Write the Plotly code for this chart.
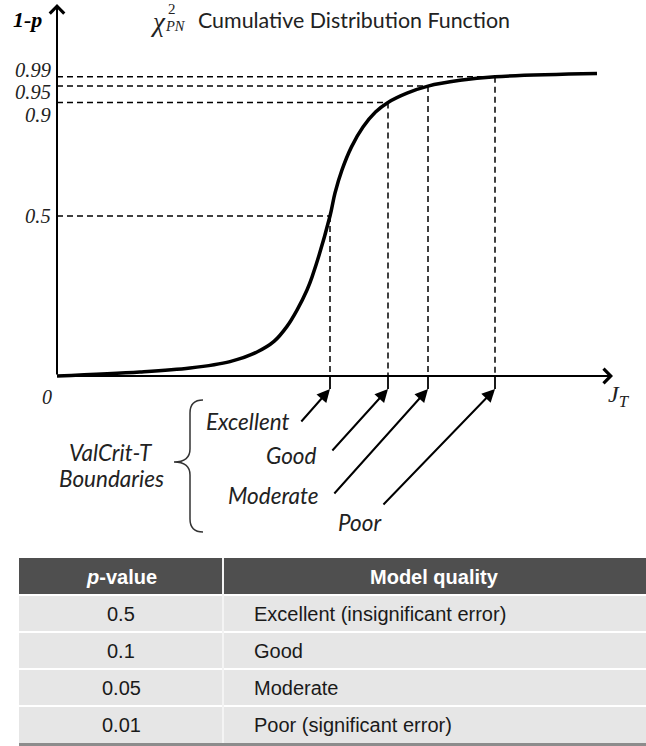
import plotly.graph_objects as go

# ---------------- data ----------------
# schematic CDF curve: J_T (x) vs drawn height of 1-p (y, schematic scale)
cdf_jt = [0.0, 1.66, 2.66, 3.46, 4.00, 4.34, 4.60, 4.80, 5.00, 5.10, 5.46, 5.56, 5.70,
          5.89, 6.12, 6.37, 6.62, 7.00, 7.42, 8.06, 8.76, 10.80]
cdf_height = [0.0, 0.0125, 0.025, 0.045, 0.075, 0.108, 0.155, 0.206, 0.269, 0.309, 0.500,
              0.572, 0.644, 0.716, 0.778, 0.825, 0.855, 0.884, 0.906, 0.924, 0.935, 0.945]

# probability levels (label, drawn height) and the J_T boundary where the curve meets them
level_labels = ["0.5", "0.9", "0.95", "0.99"]
level_height = [0.500, 0.855, 0.906, 0.935]
boundary_jt = [5.46, 6.62, 7.42, 8.76]
boundary_names = ["Excellent", "Good", "Moderate", "Poor"]

# table
table_header = ["<b><i>p</i>-value</b>", "<b>Model quality</b>"]
table_p = ["0.5", "0.1", "0.05", "0.01"]
table_quality = ["Excellent (insignificant error)", "Good", "Moderate", "Poor (significant error)"]

# ---------------- layout geometry ----------------
W, H = 646, 746
X0, SX = 57, 50.0      # pixel of J_T = 0, pixels per J_T unit
Y0, SY = 376, 320.0    # pixel of height 0, pixels per height unit
PLOT_BOTTOM = 545      # pixel where the drawing area ends


def dx(px):
    return (px - X0) / SX


def dy(py):
    return (Y0 - py) / SY


def paper_x(px):
    return px / W


def paper_y(py):
    return 1 - py / H


SERIF = "Liberation Serif"
SANS = "Lato"
TXT = "#222222"

fig = go.Figure()

# curve
fig.add_trace(go.Scatter(
    x=cdf_jt, y=cdf_height, mode="lines",
    line=dict(color="black", width=3.5, shape="spline", smoothing=1.0),
    hoverinfo="skip"))

stub = dy(389)
for h, b in zip(level_height, boundary_jt):
    fig.add_trace(go.Scatter(x=[0, b], y=[h, h], mode="lines",
                             line=dict(color="black", width=1.5, dash="6px,4px"),
                             hoverinfo="skip"))
    fig.add_trace(go.Scatter(x=[b, b], y=[h, 0], mode="lines",
                             line=dict(color="black", width=1.5, dash="6px,4px"),
                             hoverinfo="skip"))
    fig.add_trace(go.Scatter(x=[b, b], y=[0, stub], mode="lines",
                             line=dict(color="black", width=1.8),
                             hoverinfo="skip"))

annotations = []

# axes with open arrowheads
annotations.append(dict(x=dx(613), y=0, ax=0, ay=0, xref="x", yref="y", axref="x", ayref="y",
                        text="", showarrow=True, arrowhead=4, arrowsize=1.4, arrowwidth=2,
                        arrowcolor="black", standoff=0))
annotations.append(dict(x=0, y=dy(4), ax=0, ay=0, xref="x", yref="y", axref="x", ayref="y",
                        text="", showarrow=True, arrowhead=4, arrowsize=1.4, arrowwidth=2,
                        arrowcolor="black", standoff=0))

# boundary arrows
tails = [(300, 423), (331, 452), (333, 495), (382, 506)]
for b, (tx, ty) in zip(boundary_jt, tails):
    annotations.append(dict(x=b, y=stub, ax=dx(tx), ay=dy(ty), xref="x", yref="y",
                            axref="x", ayref="y", text="", showarrow=True, arrowhead=2,
                            arrowsize=1.3, arrowwidth=2, arrowcolor="black", standoff=0))

# y level labels
label_centers = [216, 115, 91.5, 69.5]
for lab, cy in zip(level_labels, label_centers):
    annotations.append(dict(x=dx(53), y=dy(cy), xref="x", yref="y", text=lab, showarrow=False,
                            xanchor="right", yanchor="middle",
                            font=dict(family=SERIF, size=20.5, color=TXT, style="italic")))

annotations.append(dict(x=dx(47), y=dy(397), xref="x", yref="y", text="0", showarrow=False,
                        xanchor="center", yanchor="middle",
                        font=dict(family=SERIF, size=20, color=TXT, style="italic")))
annotations.append(dict(x=dx(606), y=dy(396), xref="x", yref="y", text="J<sub>T</sub>",
                        showarrow=False, xanchor="left", yanchor="middle",
                        font=dict(family=SERIF, size=24, color=TXT, style="italic")))
annotations.append(dict(x=dx(27), y=dy(19), xref="x", yref="y", text="1-p", showarrow=False,
                        xanchor="center", yanchor="middle",
                        font=dict(family=SERIF, size=22, color="black", style="italic",
                                  weight="bold")))

# title
annotations.append(dict(x=dx(158), y=dy(22), xref="x", yref="y", text="χ", showarrow=False,
                        xanchor="center", yanchor="middle",
                        font=dict(family=SERIF, size=27, color=TXT, style="italic")))
annotations.append(dict(x=dx(172), y=dy(8.5), xref="x", yref="y", text="2", showarrow=False,
                        xanchor="center", yanchor="middle",
                        font=dict(family=SERIF, size=15, color=TXT)))
annotations.append(dict(x=dx(175), y=dy(25.5), xref="x", yref="y", text="PN", showarrow=False,
                        xanchor="center", yanchor="middle",
                        font=dict(family=SERIF, size=14.5, color=TXT, style="italic")))
annotations.append(dict(x=dx(196), y=dy(20), xref="x", yref="y",
                        text="Cumulative Distribution Function", showarrow=False,
                        xanchor="left", yanchor="middle",
                        font=dict(family=SANS, size=21.4, color=TXT)))

# boundary labels
name_pos = [(248, 421), (291, 455), (273, 495), (360, 522)]
for name, (cx, cy) in zip(boundary_names, name_pos):
    annotations.append(dict(x=dx(cx), y=dy(cy), xref="x", yref="y", text=name, showarrow=False,
                            xanchor="center", yanchor="middle",
                            font=dict(family=SANS, size=22.5, color=TXT, style="italic")))
for txt, cy in [("ValCrit-T", 452), ("Boundaries", 478)]:
    annotations.append(dict(x=dx(111), y=dy(cy), xref="x", yref="y", text=txt, showarrow=False,
                            xanchor="center", yanchor="middle",
                            font=dict(family=SANS, size=22.5, color=TXT, style="italic")))


# curly brace
def P(px, py):
    return f"{dx(px):.4f},{dy(py):.4f}"


brace = (f"M {P(203,400)} Q {P(190,400)} {P(190,413)} L {P(190,449)} "
         f"Q {P(190,462)} {P(174,462)} Q {P(190,462)} {P(190,475)} L {P(190,519)} "
         f"Q {P(190,532)} {P(203,532)}")
shapes = [dict(type="path", path=brace, xref="x", yref="y",
               line=dict(color="#333333", width=1.5))]

# ---------------- table (built from the table lists) ----------------
T_LEFT, T_RIGHT, T_DIV = 19, 646, 223
T_TOP, HEAD_H, ROW_H = 558, 37, 37
TFONT = "Liberation Sans"
n_rows = len(table_p)
T_BOTTOM = T_TOP + HEAD_H + n_rows * ROW_H

# header background
shapes.append(dict(type="rect", xref="paper", yref="paper", layer="below",
                   x0=paper_x(T_LEFT), x1=paper_x(T_RIGHT),
                   y0=paper_y(T_TOP + HEAD_H), y1=paper_y(T_TOP),
                   fillcolor="#4f4f4f", line=dict(width=0)))
# row backgrounds
shapes.append(dict(type="rect", xref="paper", yref="paper", layer="below",
                   x0=paper_x(T_LEFT), x1=paper_x(T_RIGHT),
                   y0=paper_y(T_BOTTOM), y1=paper_y(T_TOP + HEAD_H),
                   fillcolor="#e6e6e6", line=dict(width=0)))
# row separators
for i in range(n_rows):
    yy = paper_y(T_TOP + HEAD_H + i * ROW_H)
    shapes.append(dict(type="line", xref="paper", yref="paper",
                       x0=paper_x(T_LEFT), x1=paper_x(T_RIGHT), y0=yy, y1=yy,
                       line=dict(color="white", width=2)))
# column divider
shapes.append(dict(type="line", xref="paper", yref="paper",
                   x0=paper_x(T_DIV), x1=paper_x(T_DIV),
                   y0=paper_y(T_BOTTOM), y1=paper_y(T_TOP),
                   line=dict(color="#f4f4f4", width=2)))
# bottom rule
yb = paper_y(T_BOTTOM + 1.5)
shapes.append(dict(type="line", xref="paper", yref="paper",
                   x0=paper_x(T_LEFT), x1=paper_x(T_RIGHT), y0=yb, y1=yb,
                   line=dict(color="#8c8c8c", width=3)))

# header texts
col_centers = [(T_LEFT + T_DIV) / 2, (T_DIV + T_RIGHT) / 2]
for txt, cx in zip(table_header, col_centers):
    annotations.append(dict(x=paper_x(cx), y=paper_y(T_TOP + HEAD_H / 2), xref="paper",
                            yref="paper", text=txt, showarrow=False, xanchor="center",
                            yanchor="middle", font=dict(family=TFONT, size=20, color="white")))
# cell texts
for i, (pv, q) in enumerate(zip(table_p, table_quality)):
    cy = T_TOP + HEAD_H + i * ROW_H + ROW_H / 2
    annotations.append(dict(x=paper_x(col_centers[0]), y=paper_y(cy), xref="paper",
                            yref="paper", text=pv, showarrow=False, xanchor="center",
                            yanchor="middle", font=dict(family=TFONT, size=20, color="#1a1a1a")))
    annotations.append(dict(x=paper_x(T_DIV + 29), y=paper_y(cy), xref="paper",
                            yref="paper", text=q, showarrow=False, xanchor="left",
                            yanchor="middle", font=dict(family=TFONT, size=20, color="#1a1a1a")))

fig.update_layout(
    width=W, height=H, margin=dict(l=0, r=0, t=0, b=0),
    paper_bgcolor="white", plot_bgcolor="white", showlegend=False,
    xaxis=dict(visible=False, range=[dx(0), dx(W)], domain=[0, 1], fixedrange=True),
    yaxis=dict(visible=False, range=[dy(PLOT_BOTTOM), dy(0)],
               domain=[(H - PLOT_BOTTOM) / H, 1], fixedrange=True),
    annotations=annotations, shapes=shapes)

fig.write_html("out.html", config={"displayModeBar": False},
               post_script="document.body.style.margin='0';")
